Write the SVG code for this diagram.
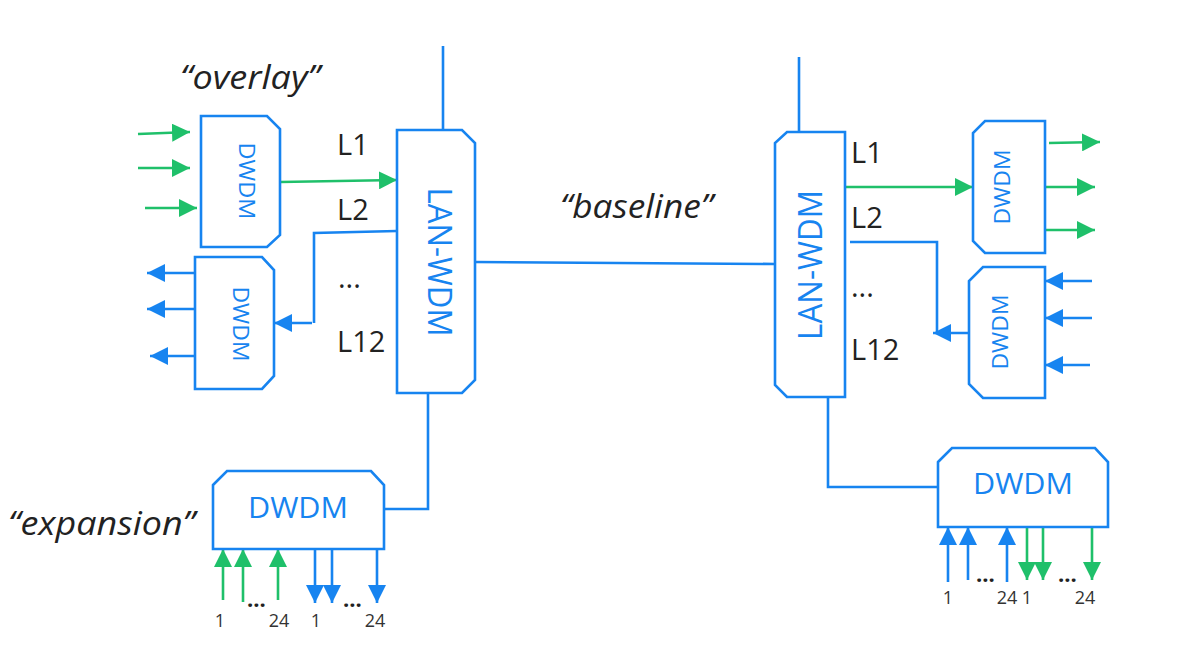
<svg xmlns="http://www.w3.org/2000/svg" width="1179" height="656" viewBox="0 0 1179 656">
<style>
.box{fill:#fff;stroke:#1784f0;stroke-width:2.6;stroke-linejoin:miter}
.bt{fill:#1784f0;font-family:"Open Sans","Liberation Sans",sans-serif;text-anchor:middle}
.b{fill:none;stroke:#1784f0;stroke-width:2.6}
.g{fill:none;stroke:#1fc06a;stroke-width:2.6}
.lab{fill:#222;font-family:"Open Sans","Liberation Sans",sans-serif;font-size:29px}
.it{fill:#222;font-family:"Open Sans","Liberation Sans",sans-serif;font-style:italic;font-size:32px}
.num{fill:#333;font-family:"Open Sans","Liberation Sans",sans-serif;font-size:18px;text-anchor:middle}
.dots{fill:#222;font-family:"Open Sans","Liberation Sans",sans-serif;font-size:22px;font-weight:bold}
</style>
<defs>
<marker id="ab" markerUnits="userSpaceOnUse" markerWidth="18" markerHeight="18" refX="18" refY="9" orient="auto" viewBox="0 0 18 18"><path d="M0,0 L18,9 L0,18 Z" fill="#1784f0"/></marker>
<marker id="ag" markerUnits="userSpaceOnUse" markerWidth="18" markerHeight="18" refX="18" refY="9" orient="auto" viewBox="0 0 18 18"><path d="M0,0 L18,9 L0,18 Z" fill="#1fc06a"/></marker>
</defs>
<rect width="1179" height="656" fill="#fff"/>

<g id="connectors">
<path class="b" d="M443,46 V130"/>
<path class="b" d="M799,57 V132"/>
<path class="b" d="M475,262 L775,264"/>
<path class="b" d="M428,393 V509 H384"/>
<path class="b" d="M828,397 V487 H938"/>
<path class="g" d="M280,182 L397,180" marker-end="url(#ag)"/>
<path class="b" d="M397,231 L314,233 V323"/>
<path class="b" d="M312,323 L274,323" marker-end="url(#ab)"/>
<path class="g" d="M138,134 L190,132" marker-end="url(#ag)"/>
<path class="g" d="M138,168 L190,168" marker-end="url(#ag)"/>
<path class="g" d="M145,208 L197,208" marker-end="url(#ag)"/>
<path class="b" d="M195,273 L147,273" marker-end="url(#ab)"/>
<path class="b" d="M195,309 L147,309" marker-end="url(#ab)"/>
<path class="b" d="M195,356 L150,356" marker-end="url(#ab)"/>
<path class="g" d="M845,187 L973,187" marker-end="url(#ag)"/>
<path class="b" d="M850,242 H937 V333"/>
<path class="b" d="M969,333 L933,333" marker-end="url(#ab)"/>
<path class="g" d="M1049,143 L1100,142" marker-end="url(#ag)"/>
<path class="g" d="M1045,187 L1095,187" marker-end="url(#ag)"/>
<path class="g" d="M1045,230 L1095,230" marker-end="url(#ag)"/>
<path class="b" d="M1092,281 L1045,281" marker-end="url(#ab)"/>
<path class="b" d="M1092,318 L1045,318" marker-end="url(#ab)"/>
<path class="b" d="M1090,365 L1045,365" marker-end="url(#ab)"/>
<path class="g" d="M223,600 V549" marker-end="url(#ag)"/>
<path class="g" d="M243,602 V549" marker-end="url(#ag)"/>
<path class="g" d="M278,600 V549" marker-end="url(#ag)"/>
<path class="b" d="M315,549 V603" marker-end="url(#ab)"/>
<path class="b" d="M332,549 V603" marker-end="url(#ab)"/>
<path class="b" d="M377,549 V603" marker-end="url(#ab)"/>
<path class="b" d="M948,582 V527" marker-end="url(#ab)"/>
<path class="b" d="M968,580 V527" marker-end="url(#ab)"/>
<path class="b" d="M1007,582 V527" marker-end="url(#ab)"/>
<path class="g" d="M1027,527 V580" marker-end="url(#ag)"/>
<path class="g" d="M1043,527 V580" marker-end="url(#ag)"/>
<path class="g" d="M1092,527 V580" marker-end="url(#ag)"/>
</g>

<g id="dwdm-overlay-in">
<path class="box" d="M201,116 H267 L280,129 V235 L267,247 H201 Z"/>
<text class="bt" font-size="22" transform="translate(247,181) rotate(90)" y="8" textLength="77" lengthAdjust="spacingAndGlyphs">DWDM</text>
</g>
<g id="dwdm-overlay-out">
<path class="box" d="M195,257 H262 L274,270 V376 L262,389 H195 Z"/>
<text class="bt" font-size="22" transform="translate(241,324) rotate(90)" y="8" textLength="75" lengthAdjust="spacingAndGlyphs">DWDM</text>
</g>
<g id="lanwdm-left">
<path class="box" d="M397,130 H462 L475,143 V380 L462,393 H397 Z"/>
<text class="bt" font-size="33" transform="translate(440,262) rotate(90)" y="12" textLength="149" lengthAdjust="spacingAndGlyphs">LAN-WDM</text>
</g>
<g id="lanwdm-right">
<path class="box" d="M787,132 H845 V397 H787 L775,385 V143 Z"/>
<text class="bt" font-size="33" transform="translate(810,265) rotate(-90)" y="12" textLength="150" lengthAdjust="spacingAndGlyphs">LAN-WDM</text>
</g>
<g id="dwdm-right-out">
<path class="box" d="M985,121 H1045 V253 H985 L973,241 V133 Z"/>
<text class="bt" font-size="22" transform="translate(1002,187) rotate(-90)" y="8" textLength="75" lengthAdjust="spacingAndGlyphs">DWDM</text>
</g>
<g id="dwdm-right-in">
<path class="box" d="M983,267 H1045 V398 H983 L969,384 V281 Z"/>
<text class="bt" font-size="22" transform="translate(1000,332) rotate(-90)" y="8" textLength="75" lengthAdjust="spacingAndGlyphs">DWDM</text>
</g>
<g id="dwdm-expansion-left">
<path class="box" d="M213,485 L227,471 H371 L384,485 V549 H213 Z"/>
<text class="bt" font-size="30" x="298" y="518" textLength="100" lengthAdjust="spacingAndGlyphs">DWDM</text>
</g>
<g id="dwdm-expansion-right">
<path class="box" d="M938,462 L952,448 H1095 L1108,462 V527 H938 Z"/>
<text class="bt" font-size="30" x="1023" y="494" textLength="100" lengthAdjust="spacingAndGlyphs">DWDM</text>
</g>

<g id="labels">
<text class="it" x="180" y="89" textLength="140" lengthAdjust="spacingAndGlyphs">“overlay”</text>
<text class="it" x="560" y="218" textLength="153" lengthAdjust="spacingAndGlyphs">“baseline”</text>
<text class="it" x="8" y="535" textLength="187" lengthAdjust="spacingAndGlyphs">“expansion”</text>
<text class="lab" x="337" y="155">L1</text>
<text class="lab" x="337" y="220">L2</text>
<text class="lab" x="338" y="288">...</text>
<text class="lab" x="337" y="352">L12</text>
<text class="lab" x="851" y="163">L1</text>
<text class="lab" x="851" y="228">L2</text>
<text class="lab" x="851" y="297">...</text>
<text class="lab" x="851" y="360">L12</text>
<text class="dots" x="247" y="607">...</text>
<text class="dots" x="343" y="607">...</text>
<text class="dots" x="976" y="582">...</text>
<text class="dots" x="1058" y="582">...</text>
<text class="num" x="220" y="627">1</text>
<text class="num" x="279" y="627">24</text>
<text class="num" x="316" y="627">1</text>
<text class="num" x="375" y="627">24</text>
<text class="num" x="948" y="604">1</text>
<text class="num" x="1007" y="604">24</text>
<text class="num" x="1027" y="604">1</text>
<text class="num" x="1085" y="604">24</text>
</g>
</svg>
